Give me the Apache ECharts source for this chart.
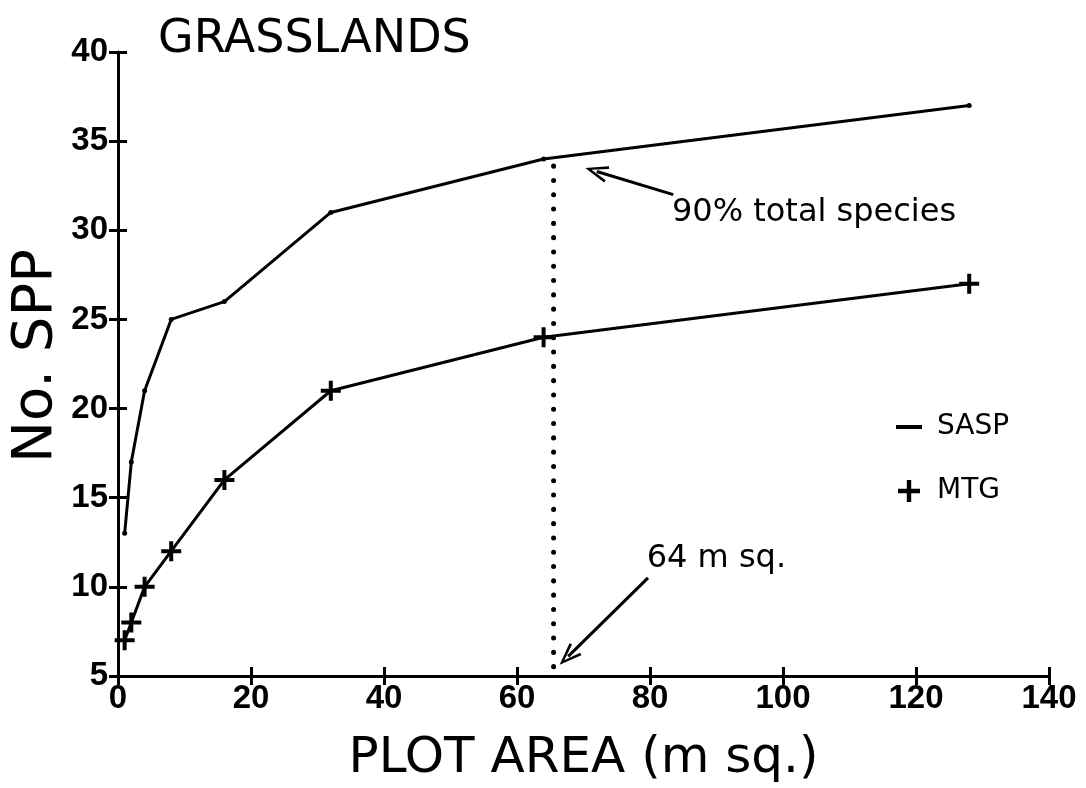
<!DOCTYPE html>
<html><head><meta charset="utf-8">
<script src="https://cdn.jsdelivr.net/npm/echarts@6/dist/echarts.min.js"></script>
<style>html,body{margin:0;padding:0;background:#fff}#c{width:1086px;height:788px}</style>
</head><body><div id="c"></div>
<script>
// ---- data ----
const plotArea = [1, 2, 4, 8, 16, 32, 64, 128];
const saspSpp = [13, 17, 21, 25, 26, 31, 34, 37];
const mtgSpp = [7, 8, 10, 12, 16, 21, 24, 27];
const xTickLabels = [0, 20, 40, 60, 80, 100, 120, 140];
const yTickLabels = [5, 10, 15, 20, 25, 30, 35, 40];
const cutoffLine = [[65.5, 33.6], [65.5, 5]];
const arrow90 = [[83.5, 32.0], [72.0, 33.3]];
const arrow64 = [[79.7, 10.5], [67.7, 6.1]];
const note90 = {text: '90% total species', at: [83.3, 31.0]};
const note64 = {text: '64 m sq.', at: [79.5, 11.6]};

const FONT = 'DejaVu Sans';
const crossPath = 'path://M-2,-10H2V-2H10V2H2V10H-2V2H-10V-2H-2Z';
const dashPath = 'path://M0,0H26V4H0Z';
const chevron = 'path://M-12,0L-12,0M12,26L12,26M0,0L8.5,24L5.8,25L0,7L-5.8,25L-8.5,24Z';

const sasp = plotArea.map((x, i) => [x, saspSpp[i]]);
const mtg = plotArea.map((x, i) => [x, mtgSpp[i]]);

const xMin = xTickLabels[0], xMax = xTickLabels[xTickLabels.length - 1];
const yMin = yTickLabels[0], yMax = yTickLabels[yTickLabels.length - 1];

const axisLineStyle = {color: '#000', width: 3};
const tickLabel = {color: '#000', fontFamily: 'Liberation Sans', fontWeight: 'bold', fontSize: 33};

const chart = echarts.init(document.getElementById('c'), null, {renderer: 'canvas'});
chart.setOption({
  backgroundColor: '#fff',
  animation: false,
  title: {
    text: 'GRASSLANDS', left: 153, top: 12,
    textStyle: {fontFamily: FONT, fontWeight: 'normal', fontSize: 46, color: '#000'}
  },
  grid: {left: 118, right: 37, top: 52, bottom: 112, containLabel: false, outerBoundsMode: 'none'},
  legend: {
    orient: 'vertical', left: 896, top: 413, itemGap: 36,
    itemWidth: 26, itemHeight: 22, padding: 0,
    textStyle: {fontFamily: FONT, fontSize: 28, color: '#000', padding: [0, 0, 0, 10]},
    data: [{name: 'SASP', icon: dashPath}, {name: 'MTG', icon: crossPath}]
  },
  xAxis: [{
    type: 'value', min: xMin, max: xMax, interval: 20,
    name: 'PLOT AREA (m sq.)', nameLocation: 'middle', nameGap: 58, nameMoveOverlap: false,
    nameTextStyle: {fontFamily: FONT, fontSize: 50, color: '#000'},
    axisLine: {show: true, lineStyle: axisLineStyle},
    axisTick: {show: true, length: 9, lineStyle: axisLineStyle},
    axisLabel: Object.assign({margin: 6}, tickLabel),
    splitLine: {show: false}
  }, {
    type: 'value', min: xMin, max: xMax, interval: 20, position: 'bottom',
    axisLine: {show: false},
    axisTick: {show: true, inside: true, length: 9, lineStyle: axisLineStyle},
    axisLabel: {show: false}, splitLine: {show: false}
  }],
  yAxis: [{
    type: 'value', min: yMin, max: yMax, interval: 5,
    name: 'No. SPP', nameLocation: 'middle', nameGap: 54, nameMoveOverlap: false,
    nameTextStyle: {fontFamily: FONT, fontSize: 56, color: '#000', padding: [0, 0, 0, 16]},
    axisLine: {show: true, lineStyle: axisLineStyle},
    axisTick: {show: true, length: 9, lineStyle: axisLineStyle},
    axisLabel: Object.assign({margin: 10}, tickLabel),
    splitLine: {show: false}
  }, {
    type: 'value', min: yMin, max: yMax, interval: 5, position: 'left',
    axisLine: {show: false},
    axisTick: {show: true, inside: true, length: 9, lineStyle: axisLineStyle},
    axisLabel: {show: false}, splitLine: {show: false}
  }],
  series: [{
    name: 'SASP', type: 'line', data: sasp,
    symbol: 'circle', symbolSize: 5,
    itemStyle: {color: '#000'},
    lineStyle: {color: '#000', width: 3}
  }, {
    name: 'MTG', type: 'line', data: mtg,
    symbol: crossPath, symbolSize: 20,
    itemStyle: {color: '#000'},
    lineStyle: {color: '#000', width: 3}
  }, {
    name: 'cutoff', type: 'line', data: cutoffLine,
    symbol: 'none', silent: true,
    lineStyle: {color: '#000', width: 5, type: [0.1, 14.2], cap: 'round'},
    markLine: {
      silent: true, symbol: ['none', chevron], symbolSize: 24,
      lineStyle: {color: '#000', width: 3, type: 'solid'},
      label: {show: false},
      data: [
        [{coord: arrow90[0]}, {coord: arrow90[1]}],
        [{coord: arrow64[0]}, {coord: arrow64[1]}]
      ]
    },
    markPoint: {
      silent: true, symbol: 'circle', symbolSize: 0,
      label: {show: true, position: 'right', distance: 0, color: '#000', fontFamily: FONT, fontSize: 32,
              formatter: p => p.name},
      data: [
        {name: note90.text, coord: note90.at},
        {name: note64.text, coord: note64.at}
      ]
    }
  }]
});
</script>
</body></html>
